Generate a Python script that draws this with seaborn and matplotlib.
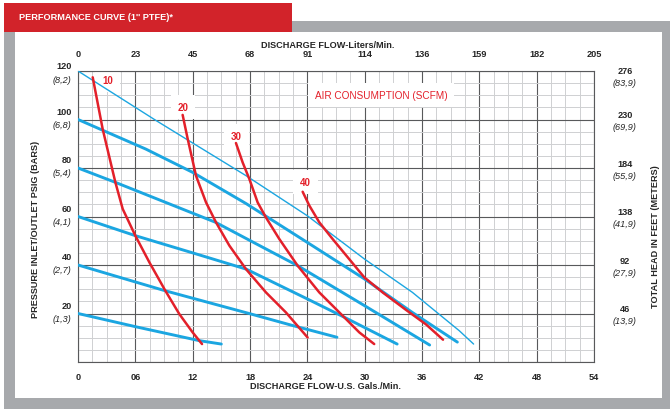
import seaborn as sns
import matplotlib.pyplot as plt
from matplotlib.patches import Rectangle
from matplotlib.ticker import MultipleLocator

# --- axis ticks / labels ---
gpm_ticks = [0, 6, 12, 18, 24, 30, 36, 42, 48, 54]
gpm_labels = ["0", "06", "12", "18", "24", "30", "36", "42", "48", "54"]
lpm_labels = ["0", "23", "45", "68", "91", "114", "136", "159", "182", "205"]

psi_ticks = [20, 40, 60, 80, 100, 120]
psi_labels = ["20", "40", "60", "80", "100", "120"]
bar_labels = ["(1,3)", "(2,7)", "(4,1)", "(5,4)", "(6,8)", "(8,2)"]
feet_labels = ["46", "92", "138", "184", "230", "276"]
meter_labels = ["(13,9)", "(27,9)", "(41,9)", "(55,9)", "(69,9)", "(83,9)"]

# --- air inlet pressure lines (flow gpm, head psi) ---
p120_gpm = [0, 8.2, 11.3, 17.6, 24, 30, 35, 39.9, 41.4]
p120_psi = [120, 99.5, 92, 76.8, 60.3, 42.4, 28.7, 12.9, 7.4]
p100_gpm = [0, 7.1, 12, 17.6, 24, 30, 35, 39.7]
p100_psi = [100, 87.8, 78.2, 65.3, 49.3, 34.2, 20.4, 8.2]
p80_gpm = [0, 3.9, 14.4, 19, 23, 30, 36.8]
p80_psi = [80, 74.1, 57.6, 48, 39.7, 23.2, 7]
p60_gpm = [0, 6, 12, 17.6, 24, 27.9, 33.4]
p60_psi = [60, 52.1, 45, 38.3, 26, 18.4, 7.4]
p40_gpm = [0, 9.1, 18, 22.5, 27.1]
p40_psi = [40, 29.4, 19.9, 15, 10.2]
p20_gpm = [0, 6.2, 12.7, 15.0]
p20_psi = [20, 14.4, 8.8, 7.4]

# --- air consumption curves (SCFM) ---
scfm_names = ["10", "20", "30", "40"]
scfm10_gpm = [1.54, 2.58, 3.91, 4.68, 6.0, 7.47, 9.14, 10.6, 12.0, 12.98]
scfm10_psi = [117.4, 96.1, 74.1, 63.1, 52.1, 41.1, 29.4, 19.8, 12.2, 7.4]
scfm20_gpm = [10.95, 11.48, 12.35, 13.4, 14.44, 15.84, 17.58, 19.67, 21.77, 24.03]
scfm20_psi = [101.9, 92, 76.8, 65.8, 57.6, 48, 38.3, 28.7, 20.4, 10.1]
scfm30_gpm = [16.53, 17.23, 17.93, 18.8, 19.67, 21.07, 22.99, 25.25, 27.87, 29.44, 31.0]
scfm30_psi = [90.3, 82.3, 75.5, 65.8, 59.6, 50.7, 39.7, 28.7, 18.4, 12.2, 7.4]
scfm40_gpm = [23.51, 24.21, 25.25, 26.65, 28.39, 29.96, 31.88, 34.32, 36.42, 38.2]
scfm40_psi = [70.2, 64.5, 57.6, 50.7, 42.4, 34.9, 28.7, 21.5, 15.5, 9.2]

BLUE = "#1ba6e1"
RED = "#e3202a"
GRAY = "#a7a9ac"
FS = 6.6

sns.set_style("white")
plt.rcParams["font.family"] = ["Liberation Sans", "DejaVu Sans"]

W, H = 670, 410
fig = plt.figure(figsize=(W / 100, H / 100), dpi=100)

# frame: gray border, white panel, red title banner (behind the axes)
fig.patches.append(Rectangle((4 / W, 0), 666 / W, 388 / H, transform=fig.transFigure,
                             facecolor=GRAY, edgecolor="none", zorder=-3))
fig.patches.append(Rectangle((15 / W, 11 / H), 647 / W, 366 / H, transform=fig.transFigure,
                             facecolor="white", edgecolor="none", zorder=-2))
fig.patches.append(Rectangle((4 / W, 377 / H), 288 / W, 29 / H, transform=fig.transFigure,
                             facecolor="#d2232a", edgecolor="none", zorder=-2))
fig.text(19 / W, 392 / H, "PERFORMANCE CURVE (1'' PTFE)*", color="white",
         fontsize=FS, fontweight="bold", va="center", ha="left")

ax = fig.add_axes([78 / W, 47 / H, 516 / W, 291 / H])
ax.set_facecolor("white")

# grid
ax.set_xlim(0, 54)
ax.set_ylim(0, 120)
ax.set_xticks(gpm_ticks)
ax.set_yticks([0] + psi_ticks)
ax.xaxis.set_minor_locator(MultipleLocator(1.5))
ax.yaxis.set_minor_locator(MultipleLocator(5))
ax.grid(which="minor", color="#cfd0d2", lw=0.7, zorder=0)
ax.grid(which="major", color="#58595b", lw=0.8, zorder=0.5)
ax.set_axisbelow(True)
for s in ax.spines.values():
    s.set_color("#58595b")
    s.set_linewidth(0.8)

ax.tick_params(which="both", length=0)
ax.set_xticklabels(gpm_labels, fontsize=FS, fontweight="bold")
ax.tick_params(axis="x", pad=7)
ax.set_yticklabels([])

top = ax.secondary_xaxis("top")
top.set_xticks(gpm_ticks)
top.set_xticklabels(lpm_labels, fontsize=FS, fontweight="bold")
top.tick_params(length=0, pad=9)
for s in top.spines.values():
    s.set_visible(False)

# pressure lines
pressure_lines = [(p120_gpm, p120_psi, 1.0), (p100_gpm, p100_psi, 2.1),
                  (p80_gpm, p80_psi, 2.1), (p60_gpm, p60_psi, 2.1),
                  (p40_gpm, p40_psi, 2.1), (p20_gpm, p20_psi, 2.1)]
for gx, gy, lw in pressure_lines:
    sns.lineplot(x=gx, y=gy, ax=ax, color=BLUE, lw=lw, sort=False,
                 estimator=None, zorder=3, solid_joinstyle="round")

air_curves = [(scfm10_gpm, scfm10_psi), (scfm20_gpm, scfm20_psi),
              (scfm30_gpm, scfm30_psi), (scfm40_gpm, scfm40_psi)]
for gx, gy in air_curves:
    sns.lineplot(x=gx, y=gy, ax=ax, color=RED, lw=1.8, sort=False,
                 estimator=None, zorder=4, solid_joinstyle="round")

# curve labels on white boxes
label_pos = [(3.1, 116.1), (11.0, 105.0), (16.6, 93.2), (23.8, 74.2)]
for name, (lx, ly) in zip(scfm_names, label_pos):
    ax.text(lx, ly, name, color=RED, fontsize=FS + 0.4, fontweight="bold",
            ha="center", va="center", zorder=2,
            bbox=dict(facecolor="white", edgecolor="none", pad=5))
ax.text(31.7, 110.1, "AIR CONSUMPTION (SCFM)", color=RED, fontsize=7.2,
        ha="center", va="center", zorder=2,
        bbox=dict(facecolor="white", edgecolor="none", pad=5))

# y labels: psi (bars) on left, feet (meters) on right
for v, a, b in zip(psi_ticks, psi_labels, bar_labels):
    shift = -1.3 if v == 120 else 0
    ax.text(-0.012, v + 3.5 + shift, a, transform=ax.get_yaxis_transform(),
            ha="right", va="center", fontsize=FS, fontweight="bold")
    ax.text(-0.012, v - 2 + shift, b, transform=ax.get_yaxis_transform(),
            ha="right", va="center", fontsize=FS, style="italic")
for v, a, b in zip(psi_ticks, feet_labels, meter_labels):
    shift = -1.6 if v == 120 else 0
    ax.text(1.06, v + 2 + shift, a, transform=ax.get_yaxis_transform(),
            ha="center", va="center", fontsize=FS, fontweight="bold")
    ax.text(1.06, v - 3 + shift, b, transform=ax.get_yaxis_transform(),
            ha="center", va="center", fontsize=FS, style="italic")

# axis titles
fig.text(328 / W, 1 - 45 / H, "DISCHARGE FLOW-Liters/Min.", ha="center", va="center",
         fontsize=FS, fontweight="bold")
fig.text(326 / W, 1 - 387 / H, "DISCHARGE FLOW-U.S. Gals./Min.", ha="center", va="center",
         fontsize=FS, fontweight="bold")
fig.text(36 / W, 1 - 229 / H, "PRESSURE INLET/OUTLET PSIG (BARS)", rotation=90,
         ha="center", va="center", fontsize=FS, fontweight="bold")
fig.text(655 / W, 1 - 237 / H, "TOTAL HEAD IN FEET (METERS)", rotation=90,
         ha="center", va="center", fontsize=FS, fontweight="bold")

fig.savefig("out.png", dpi=100)
